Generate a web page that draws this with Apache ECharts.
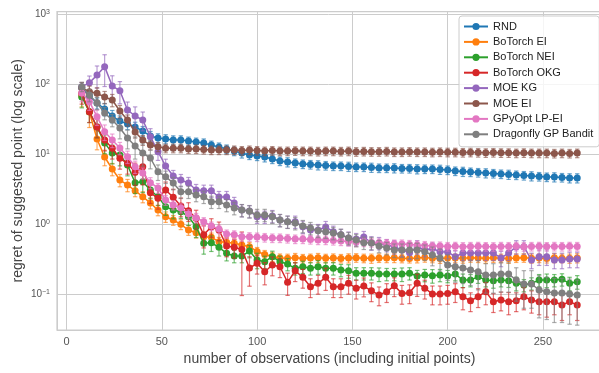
<!DOCTYPE html>
<html>
<head>
<meta charset="utf-8">
<script src="https://cdn.jsdelivr.net/npm/echarts@6/dist/echarts.min.js"></script>
<style>
  html, body { margin: 0; padding: 0; background: #fff; }
  #main { width: 599px; height: 373px; }
</style>
</head>
<body>
<div id="main"></div>
<script>
// number of observations
var xs = [8, 12, 16, 20, 24, 28, 32, 36, 40, 44, 48, 52, 56, 60, 64, 68, 72, 76, 80, 84,
  88, 92, 96, 100, 104, 108, 112, 116, 120, 124, 128, 132, 136, 140, 144, 148, 152, 156, 160, 164,
  168, 172, 176, 180, 184, 188, 192, 196, 200, 204, 208, 212, 216, 220, 224, 228, 232, 236, 240, 244,
  248, 252, 256, 260, 264, 268];

var names = ['RND', 'BoTorch EI', 'BoTorch NEI', 'BoTorch OKG', 'MOE KG', 'MOE EI', 'GPyOpt LP-EI', 'Dragonfly GP Bandit'];
var colors = ['#1f77b4', '#ff7f0e', '#2ca02c', '#d62728', '#9467bd', '#8c564b', '#e377c2', '#7f7f7f'];

// mean regret per method
var rnd = [87.7, 67.4, 53.5, 43.9, 34.9, 29.6, 26.8, 24.3, 21.3, 18.1,
  16.9, 16.4, 15.8, 15.8, 15.3, 14.8, 14.4, 13.4, 12.6, 11.8,
  11.0, 10.3, 9.68, 9.36, 9.06, 8.48, 7.94, 7.69, 7.44, 7.20,
  7.08, 6.96, 6.85, 6.74, 6.74, 6.63, 6.52, 6.52, 6.42, 6.31,
  6.31, 6.31, 6.21, 6.21, 6.11, 6.11, 6.11, 6.01, 5.91, 5.72,
  5.62, 5.53, 5.44, 5.35, 5.27, 5.18, 5.10, 5.01, 4.93, 4.85,
  4.77, 4.69, 4.69, 4.62, 4.54, 4.54];
var botorchEI = [67.4, 39.8, 16.4, 9.06, 6.11, 4.25, 3.61, 2.99, 2.45, 2.00,
  1.58, 1.27, 1.14, 0.99, 0.82, 0.75, 0.66, 0.645, 0.56, 0.55,
  0.53, 0.50, 0.474, 0.405, 0.367, 0.343, 0.327, 0.325, 0.33, 0.322,
  0.326, 0.33, 0.324, 0.328, 0.322, 0.326, 0.33, 0.325, 0.323, 0.328,
  0.326, 0.33, 0.324, 0.322, 0.327, 0.331, 0.325, 0.322, 0.328, 0.326,
  0.324, 0.33, 0.327, 0.323, 0.329, 0.325, 0.322, 0.328, 0.33, 0.324,
  0.326, 0.322, 0.329, 0.325, 0.323, 0.327];
var botorchNEI = [65.2, 40.2, 24.3, 14.4, 10.3, 9.68, 6.96, 3.89, 4.02, 3.06,
  2.45, 1.77, 1.58, 1.50, 1.27, 0.915, 0.53, 0.54, 0.465, 0.381,
  0.349, 0.349, 0.411, 0.306, 0.289, 0.341, 0.289, 0.268, 0.233, 0.245,
  0.233, 0.245, 0.233, 0.233, 0.220, 0.215, 0.198, 0.198, 0.198, 0.193,
  0.193, 0.193, 0.193, 0.198, 0.181, 0.187, 0.183, 0.187, 0.181, 0.193,
  0.158, 0.158, 0.177, 0.158, 0.155, 0.158, 0.155, 0.142, 0.134, 0.142,
  0.158, 0.158, 0.158, 0.162, 0.142, 0.150];
var botorchOKG = [73.6, 40.2, 24.3, 15.8, 12.1, 8.68, 7.36, 5.48, 6.59, 2.80,
  2.33, 3.06, 2.41, 1.81, 1.55, 1.21, 0.70, 0.915, 0.82, 0.485,
  0.465, 0.432, 0.235, 0.275, 0.208, 0.26, 0.245, 0.147, 0.215, 0.173,
  0.127, 0.142, 0.173, 0.127, 0.127, 0.142, 0.121, 0.130, 0.111, 0.097,
  0.108, 0.131, 0.102, 0.104, 0.142, 0.121, 0.100, 0.100, 0.102, 0.108,
  0.0915, 0.080, 0.0915, 0.108, 0.0777, 0.082, 0.0777, 0.080, 0.0915, 0.082,
  0.0777, 0.0777, 0.0777, 0.0697, 0.0777, 0.0697];
var moeKG = [91.5, 104, 134, 177, 93.6, 80.2, 42.5, 34.9, 30.6, 17.7,
  10.8, 6.74, 4.85, 4.25, 3.85, 3.06, 2.99, 2.99, 2.43, 2.43,
  2.0, 1.58, 1.53, 1.27, 1.27, 1.30, 1.14, 1.08, 1.08, 0.915,
  0.82, 0.82, 0.906, 0.776, 0.70, 0.63, 0.61, 0.652, 0.54, 0.535,
  0.50, 0.474, 0.425, 0.389, 0.474, 0.425, 0.447, 0.402, 0.398, 0.341,
  0.385, 0.385, 0.385, 0.385, 0.385, 0.327, 0.385, 0.474, 0.474, 0.306,
  0.341, 0.341, 0.306, 0.306, 0.316, 0.316];
var moeEI = [87.7, 77.6, 73.6, 65.2, 59.1, 41.1, 30.6, 20.6, 15.8, 13.4,
  12.7, 12.1, 12.1, 12.1, 11.8, 11.8, 11.6, 11.4, 11.4, 11.4,
  11.4, 11.2, 11.4, 11.2, 11.0, 11.2, 11.0, 11.0, 11.1, 11.0,
  11.0, 10.9, 11.0, 11.0, 10.9, 11.0, 10.8, 10.9, 10.8, 10.8,
  10.9, 10.7, 10.7, 10.8, 10.7, 10.7, 10.6, 10.7, 10.6, 10.6,
  10.5, 10.6, 10.5, 10.4, 10.5, 10.4, 10.4, 10.3, 10.4, 10.3,
  10.3, 10.3, 10.2, 10.3, 10.2, 10.3];
var gpyopt = [74.4, 55.9, 34.1, 20.8, 15.8, 12.2, 9.15, 6.59, 5.35, 3.89,
  3.27, 2.20, 1.87, 1.69, 1.39, 1.23, 1.08, 0.936, 0.848, 0.72,
  0.70, 0.659, 0.659, 0.652, 0.641, 0.631, 0.631, 0.621, 0.61, 0.61,
  0.60, 0.59, 0.59, 0.581, 0.571, 0.562, 0.553, 0.553, 0.544, 0.535,
  0.526, 0.518, 0.518, 0.51, 0.50, 0.493, 0.485, 0.485, 0.477, 0.48,
  0.475, 0.478, 0.48, 0.476, 0.474, 0.479, 0.477, 0.48, 0.475, 0.478,
  0.48, 0.476, 0.479, 0.477, 0.48, 0.478];
var dragonfly = [91.5, 69.6, 53.5, 38.5, 30.6, 23.5, 16.9, 13.0, 10.3, 8.77,
  5.58, 4.74, 3.85, 2.89, 2.89, 2.60, 2.45, 2.08, 2.08, 1.87,
  1.69, 1.58, 1.52, 1.35, 1.35, 1.27, 1.14, 1.08, 1.03, 0.936,
  0.877, 0.80, 0.776, 0.743, 0.70, 0.63, 0.59, 0.54, 0.535, 0.485,
  0.454, 0.425, 0.425, 0.425, 0.425, 0.402, 0.361, 0.327, 0.26, 0.245,
  0.235, 0.22, 0.208, 0.187, 0.187, 0.193, 0.193, 0.158, 0.139, 0.139,
  0.114, 0.108, 0.103, 0.103, 0.100, 0.097];

// error half-width, as a fraction of the mean
var rndErr = [0.12, 0.15, 0.18, 0.2, 0.2, 0.18, 0.17, 0.17, 0.16, 0.16,
  0.15, 0.15, 0.15, 0.15, 0.14, 0.14, 0.14, 0.14, 0.14, 0.14,
  0.14, 0.15, 0.14, 0.14, 0.15, 0.14, 0.14, 0.15, 0.14, 0.14,
  0.14, 0.15, 0.14, 0.14, 0.14, 0.15, 0.14, 0.14, 0.15, 0.14,
  0.14, 0.15, 0.14, 0.14, 0.15, 0.14, 0.14, 0.15, 0.14, 0.14,
  0.15, 0.14, 0.14, 0.15, 0.14, 0.14, 0.15, 0.14, 0.14, 0.15,
  0.14, 0.14, 0.15, 0.14, 0.15, 0.15];
var botorchEIErr = [0.3, 0.4, 0.3, 0.25, 0.2, 0.2, 0.2, 0.18, 0.18, 0.18,
  0.17, 0.17, 0.16, 0.16, 0.16, 0.16, 0.15, 0.15, 0.15, 0.15,
  0.15, 0.14, 0.15, 0.14, 0.14, 0.15, 0.14, 0.14, 0.15, 0.14,
  0.14, 0.15, 0.14, 0.14, 0.14, 0.15, 0.14, 0.14, 0.15, 0.14,
  0.14, 0.15, 0.14, 0.14, 0.15, 0.14, 0.14, 0.15, 0.14, 0.14,
  0.15, 0.14, 0.14, 0.15, 0.14, 0.14, 0.15, 0.14, 0.14, 0.15,
  0.14, 0.14, 0.15, 0.14, 0.15, 0.15];
var botorchNEIErr = [0.3, 0.3, 0.3, 0.3, 0.3, 0.3, 0.3, 0.3, 0.3, 0.25,
  0.25, 0.25, 0.25, 0.2, 0.25, 0.3, 0.3, 0.25, 0.25, 0.22,
  0.2, 0.2, 0.2, 0.25, 0.2, 0.2, 0.2, 0.2, 0.2, 0.2,
  0.2, 0.22, 0.2, 0.2, 0.2, 0.22, 0.2, 0.2, 0.2, 0.22,
  0.2, 0.2, 0.22, 0.2, 0.2, 0.2, 0.22, 0.2, 0.2, 0.2,
  0.22, 0.2, 0.2, 0.2, 0.22, 0.2, 0.2, 0.22, 0.2, 0.2,
  0.2, 0.22, 0.2, 0.2, 0.22, 0.22];
var botorchOKGErr = [0.3, 0.3, 0.3, 0.3, 0.3, 0.3, 0.3, 0.35, 0.45, 0.3,
  0.3, 0.3, 0.3, 0.3, 0.3, 0.3, 0.35, 0.3, 0.3, 0.3,
  0.3, 0.78, 0.45, 0.3, 0.35, 0.3, 0.3, 0.35, 0.3, 0.3,
  0.3, 0.3, 0.35, 0.3, 0.3, 0.3, 0.3, 0.3, 0.3, 0.3,
  0.3, 0.3, 0.3, 0.3, 0.35, 0.3, 0.3, 0.3, 0.3, 0.3,
  0.35, 0.3, 0.3, 0.35, 0.3, 0.3, 0.35, 0.3, 0.35, 0.35,
  0.35, 0.4, 0.35, 0.4, 0.35, 0.4];
var moeKGErr = [0.15, 0.25, 0.35, 0.48, 0.4, 0.35, 0.3, 0.35, 0.3, 0.3,
  0.25, 0.25, 0.2, 0.2, 0.2, 0.2, 0.2, 0.2, 0.2, 0.2,
  0.2, 0.2, 0.2, 0.2, 0.2, 0.2, 0.2, 0.2, 0.2, 0.2,
  0.2, 0.2, 0.2, 0.2, 0.2, 0.22, 0.2, 0.2, 0.22, 0.2,
  0.2, 0.22, 0.2, 0.2, 0.22, 0.2, 0.2, 0.22, 0.2, 0.22,
  0.22, 0.22, 0.22, 0.22, 0.22, 0.25, 0.22, 0.22, 0.22, 0.25,
  0.25, 0.25, 0.25, 0.25, 0.25, 0.25];
var moeEIErr = [0.2, 0.2, 0.2, 0.2, 0.2, 0.2, 0.18, 0.18, 0.16, 0.15,
  0.15, 0.14, 0.14, 0.14, 0.14, 0.14, 0.14, 0.14, 0.14, 0.14,
  0.14, 0.14, 0.14, 0.14, 0.14, 0.14, 0.14, 0.14, 0.14, 0.14,
  0.14, 0.14, 0.14, 0.14, 0.14, 0.14, 0.14, 0.14, 0.14, 0.14,
  0.14, 0.14, 0.14, 0.14, 0.14, 0.14, 0.14, 0.14, 0.14, 0.14,
  0.14, 0.14, 0.14, 0.14, 0.14, 0.14, 0.14, 0.14, 0.14, 0.14,
  0.14, 0.14, 0.14, 0.14, 0.14, 0.14];
var gpyoptErr = [0.25, 0.25, 0.25, 0.25, 0.22, 0.2, 0.2, 0.2, 0.18, 0.18,
  0.16, 0.16, 0.15, 0.15, 0.15, 0.15, 0.14, 0.14, 0.14, 0.14,
  0.14, 0.14, 0.14, 0.14, 0.14, 0.14, 0.14, 0.14, 0.14, 0.14,
  0.14, 0.14, 0.14, 0.14, 0.14, 0.14, 0.14, 0.14, 0.14, 0.14,
  0.14, 0.14, 0.14, 0.14, 0.14, 0.14, 0.14, 0.14, 0.14, 0.14,
  0.14, 0.14, 0.14, 0.14, 0.14, 0.14, 0.14, 0.14, 0.14, 0.14,
  0.14, 0.14, 0.14, 0.14, 0.14, 0.14];
var dragonflyErr = [0.15, 0.2, 0.2, 0.2, 0.2, 0.3, 0.3, 0.35, 0.35, 0.3,
  0.25, 0.2, 0.2, 0.2, 0.2, 0.2, 0.2, 0.2, 0.2, 0.2,
  0.2, 0.2, 0.2, 0.2, 0.2, 0.2, 0.2, 0.2, 0.2, 0.2,
  0.2, 0.2, 0.2, 0.2, 0.2, 0.2, 0.2, 0.2, 0.2, 0.2,
  0.2, 0.22, 0.22, 0.25, 0.25, 0.25, 0.3, 0.35, 0.4, 0.4,
  0.4, 0.4, 0.45, 0.45, 0.45, 0.45, 0.45, 0.5, 0.55, 0.55,
  0.6, 0.6, 0.62, 0.62, 0.63, 0.63];

var values = [rnd, botorchEI, botorchNEI, botorchOKG, moeKG, moeEI, gpyopt, dragonfly];
var errs = [rndErr, botorchEIErr, botorchNEIErr, botorchOKGErr, moeKGErr, moeEIErr, gpyoptErr, dragonflyErr];

var chart = echarts.init(document.getElementById('main'), null, { renderer: 'canvas' });

var series = [];
// mean lines first, so the legend takes its icons from them
names.forEach(function (name, k) {
  series.push({
    type: 'line',
    name: name,
    data: xs.map(function (x, i) { return [x, values[k][i]]; }),
    symbol: 'circle',
    symbolSize: 7,
    lineStyle: { width: 1.5, color: colors[k] },
    itemStyle: { color: colors[k] },
    emphasis: { disabled: true },
    z: 3 + 2 * k + 1,
    animation: false
  });
});
// error bars with caps
names.forEach(function (name, k) {
  series.push({
    type: 'custom',
    name: name,
    data: xs.map(function (x, i) {
      var v = values[k][i];
      var e = v * errs[k][i];
      return [x, v - e, v + e];
    }),
    encode: { x: 0, y: [1, 2] },
    renderItem: function (params, api) {
      var lo = api.coord([api.value(0), api.value(1)]);
      var hi = api.coord([api.value(0), api.value(2)]);
      var w = 2.2;
      var st = { stroke: colors[k], lineWidth: 1.2, opacity: 0.65 };
      return {
        type: 'group',
        children: [
          { type: 'line', shape: { x1: lo[0], y1: lo[1], x2: hi[0], y2: hi[1] }, style: st },
          { type: 'line', shape: { x1: lo[0] - w, y1: lo[1], x2: lo[0] + w, y2: lo[1] }, style: st },
          { type: 'line', shape: { x1: hi[0] - w, y1: hi[1], x2: hi[0] + w, y2: hi[1] }, style: st }
        ]
      };
    },
    silent: true,
    z: 3 + 2 * k,
    animation: false
  });
});

function supLabel(v) {
  var lg = Math.log10(v);
  var e = Math.round(lg);
  if (Math.abs(lg - e) > 1e-6) return '';
  return '{b|10}{s|' + (e < 0 ? '\u2212' + (-e) : e) + '}';
}

var option = {
  animation: false,
  textStyle: { fontFamily: 'Liberation Sans, Arial, sans-serif' },
  grid: {
    left: 57, right: -3, top: 11.5, bottom: 43,
    outerBoundsMode: 'none',
    containLabel: false,
    show: true, borderColor: '#cccccc', borderWidth: 1.25, backgroundColor: '#fff'
  },
  legend: {
    data: names,
    orient: 'vertical',
    left: 459, top: 16,
    padding: [4, 6, 6, 4],
    itemWidth: 24, itemHeight: 9, itemGap: 2.4,
    backgroundColor: 'rgba(255,255,255,0.8)',
    borderColor: '#cccccc', borderWidth: 1, borderRadius: 3,
    textStyle: { fontSize: 11, color: '#222', lineHeight: 13 },
    z: 50
  },
  xAxis: {
    type: 'value',
    min: -5, max: 281,
    splitNumber: 5,
    name: 'number of observations (including initial points)',
    nameLocation: 'middle',
    nameGap: 22,
    nameTextStyle: { fontSize: 14, color: '#444' },
    axisLine: { show: false },
    axisTick: { show: false },
    axisLabel: {
      color: '#555', fontSize: 11, margin: 6,
      showMinLabel: false, showMaxLabel: false,
      formatter: function (v) { return v % 50 === 0 ? String(v) : ''; }
    },
    splitLine: { show: true, lineStyle: { color: '#cccccc', width: 1 } }
  },
  yAxis: {
    type: 'log',
    logBase: 10,
    min: 0.0306, max: 1086,
    name: 'regret of suggested point (log scale)',
    nameLocation: 'middle',
    nameGap: 32,
    nameMoveOverlap: false,
    nameTextStyle: { fontSize: 14, color: '#444' },
    axisLine: { show: false },
    axisTick: { show: false },
    minorTick: { show: false },
    axisLabel: {
      color: '#555', margin: 7,
      showMinLabel: false, showMaxLabel: false,
      formatter: supLabel,
      rich: {
        b: { fontSize: 10, color: '#555' },
        s: { fontSize: 7, color: '#555', verticalAlign: 'top' }
      }
    },
    splitLine: { show: true, lineStyle: { color: '#cccccc', width: 1 } }
  },
  series: series
};

chart.setOption(option);
</script>
</body>
</html>
